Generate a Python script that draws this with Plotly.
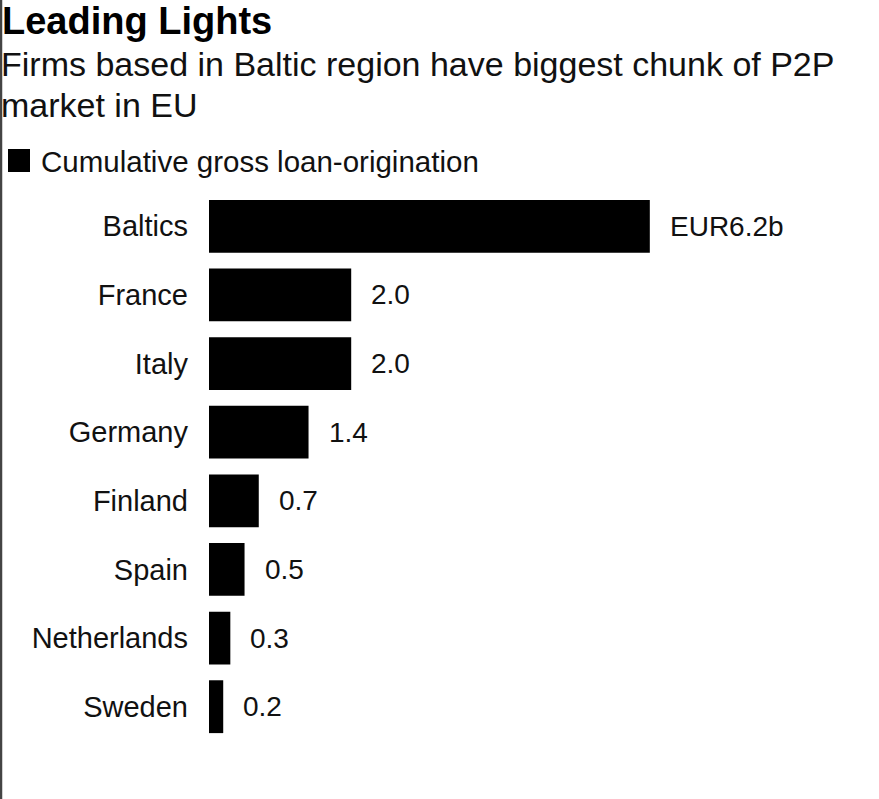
import plotly.graph_objects as go

categories = ["Baltics", "France", "Italy", "Germany", "Finland", "Spain", "Netherlands", "Sweden"]
values = [6.2, 2.0, 2.0, 1.4, 0.7, 0.5, 0.3, 0.2]
value_labels = ["EUR6.2b", "2.0", "2.0", "1.4", "0.7", "0.5", "0.3", "0.2"]

title = "Leading Lights"
subtitle_lines = ["Firms based in Baltic region have biggest chunk of P2P", "market in EU"]
legend_label = "Cumulative gross loan-origination"

W, H = 879, 799
L, R, T, B = 209, 20, 192, 58
pw, ph = W - L - R, H - T - B
FONT = "Liberation Sans, Arial, sans-serif"
TXT = "#111111"


def px(x):
    return (x - L) / pw


def py(y):
    return (H - B - y) / ph


fig = go.Figure()
fig.add_trace(go.Bar(
    x=values, y=categories, orientation="h",
    marker=dict(color="#000000", line=dict(width=0)),
    width=0.77, showlegend=False, hoverinfo="skip",
))

annotations = []
for c, v, t in zip(categories, values, value_labels):
    annotations.append(dict(x=v, y=c, xref="x", yref="y", text=t, showarrow=False,
                            xanchor="left", yanchor="middle", xshift=18,
                            font=dict(family=FONT, size=28, color=TXT)))

annotations.append(dict(x=px(0), y=py(21), xref="paper", yref="paper", text="<b>" + title + "</b>",
                        showarrow=False, xanchor="left", yanchor="middle",
                        font=dict(family=FONT, size=38, color="#000000")))
annotations.append(dict(x=px(-1), y=py(64), xref="paper", yref="paper", text=subtitle_lines[0],
                        showarrow=False, xanchor="left", yanchor="middle",
                        font=dict(family=FONT, size=34, color=TXT)))
annotations.append(dict(x=px(-1), y=py(105), xref="paper", yref="paper", text=subtitle_lines[1],
                        showarrow=False, xanchor="left", yanchor="middle",
                        font=dict(family=FONT, size=34, color=TXT)))
annotations.append(dict(x=px(39), y=py(161), xref="paper", yref="paper", text=legend_label,
                        showarrow=False, xanchor="left", yanchor="middle",
                        font=dict(family=FONT, size=29.5, color=TXT)))

shapes = [
    dict(type="rect", xref="paper", yref="paper", x0=px(8), x1=px(30), y0=py(172), y1=py(149),
         fillcolor="#000000", line=dict(width=0)),
    dict(type="line", xref="paper", yref="paper", x0=px(1), x1=px(1), y0=py(0), y1=py(H),
         line=dict(color="#444444", width=2.5)),
]

fig.update_layout(
    width=W, height=H,
    margin=dict(l=L, r=R, t=T, b=B),
    paper_bgcolor="white", plot_bgcolor="white",
    xaxis=dict(range=[0, pw / 71.1], visible=False, fixedrange=True),
    yaxis=dict(autorange="reversed", showgrid=False, showline=False, zeroline=False,
               ticks="", ticklabelstandoff=20, fixedrange=True,
               tickfont=dict(family=FONT, size=29, color=TXT)),
    bargap=0.23,
    annotations=annotations,
    shapes=shapes,
    showlegend=False,
)

fig.write_html("out.html", config={"displayModeBar": False, "staticPlot": True},
               post_script="document.body.style.margin='0';document.body.style.overflow='hidden';")
